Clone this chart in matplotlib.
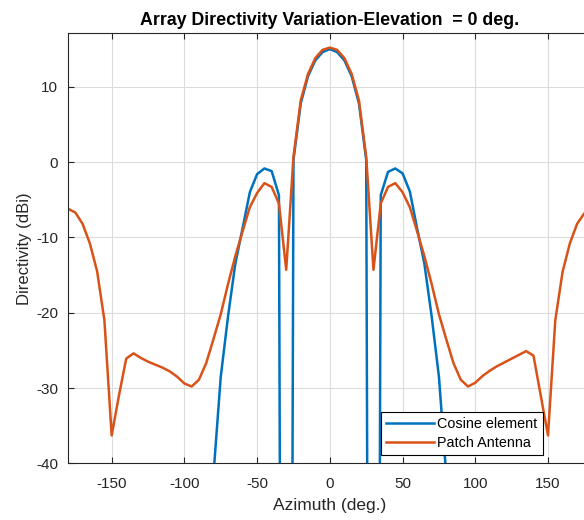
import numpy as np
import matplotlib
matplotlib.use("Agg")
import matplotlib.pyplot as plt

plt.rcParams["font.family"] = ["Liberation Sans", "DejaVu Sans"]
plt.rcParams["axes.unicode_minus"] = False

# azimuth samples (deg), 5 deg step
azimuth = np.arange(-180, 181, 5)

# values (dBi); -300 stands for a deep null
cosine_element = [
    -300, -300, -300, -300, -300, -300, -300, -300, -300, -300,   # -180..-135
    -300, -300, -300, -300, -300, -300, -300, -300, -300,         # -130..-90
    -55.0, -41.5, -28.5, -20.5, -13.5, -8.8, -4.0, -1.6, -0.85,   # -85..-45
    -1.2, -4.4, -300, 0.3, 7.8, 11.4, 13.5, 14.6, 15.0,           # -40..0
    14.6, 13.5, 11.4, 7.8, 0.3, -300, -4.4, -1.3, -0.85,          # 5..45
    -1.5, -3.9, -8.8, -13.5, -20.5, -28.5, -41.5, -55.0,          # 50..85
    -300, -300, -300, -300, -300, -300, -300, -300, -300, -300,   # 90..135
    -300, -300, -300, -300, -300, -300, -300, -300, -300,         # 140..180
]
patch_antenna = [
    -6.2, -6.7, -8.2, -10.8, -14.5, -21.0, -36.3, -31.0, -26.1, -25.4,  # -180..-135
    -26.0, -26.5, -26.9, -27.3, -27.8, -28.5, -29.4, -29.8, -28.9,      # -130..-90
    -26.7, -23.5, -20.2, -16.2, -12.5, -9.2, -6.0, -4.1, -2.8,          # -85..-45
    -3.3, -5.5, -14.3, 0.7, 8.2, 11.7, 13.8, 14.9, 15.2,                # -40..0
    14.9, 13.8, 11.7, 8.2, 0.7, -14.3, -5.5, -3.3, -2.8,                # 5..45
    -4.0, -6.0, -9.2, -12.5, -16.2, -20.2, -23.5, -26.7,                # 50..85
    -28.9, -29.8, -29.3, -28.4, -27.7, -27.1, -26.6, -26.1, -25.6,      # 90..130
    -25.1, -25.7, -31.0, -36.3, -21.0, -14.6, -10.8, -8.2, -6.8, -6.2,  # 135..180
]

xticks = [-150, -100, -50, 0, 50, 100, 150]
yticks = [-40, -30, -20, -10, 0, 10]

text_color = "#262626"

fig = plt.figure(figsize=(5.84, 5.2), dpi=100)
# the reference crops the right edge of the axes
ax = fig.add_axes([0.1165, 0.109, 0.8966, 0.827])

ax.plot(azimuth, cosine_element, color="#0072BD", lw=1.8, label="Cosine element")
ax.plot(azimuth, patch_antenna, color="#D95319", lw=1.8, label="Patch Antenna")

ax.set_xlim(-180, 180)
ax.set_ylim(-40, 17.1)
ax.set_xticks(xticks)
ax.set_yticks(yticks)
ax.grid(True, color="#dcdcdc", lw=0.8)
ax.set_axisbelow(True)
ax.tick_params(direction="in", top=True, right=True, length=4,
               labelsize=11, colors=text_color)
ax.tick_params(axis="x", pad=10)
ax.tick_params(axis="y", pad=7)
for s in ax.spines.values():
    s.set_color(text_color)
    s.set_linewidth(0.8)

ax.set_xlabel("Azimuth (deg.)", fontsize=12.5, color=text_color, labelpad=5)
ax.set_ylabel("Directivity (dBi)", fontsize=12, color=text_color, labelpad=3)
ax.set_title("Array Directivity Variation-Elevation  = 0 deg.",
             fontsize=12.8, fontweight="bold", color="black", pad=6)

leg = ax.legend(loc="lower right", bbox_to_anchor=(0.9066, 0.0193), fontsize=10.4,
                fancybox=False, framealpha=1, edgecolor="black",
                handlelength=3.3, handletextpad=0.25, borderpad=0.35,
                labelspacing=0.35, borderaxespad=0)
leg.get_frame().set_linewidth(0.8)

fig.savefig("out.png", dpi=100)
